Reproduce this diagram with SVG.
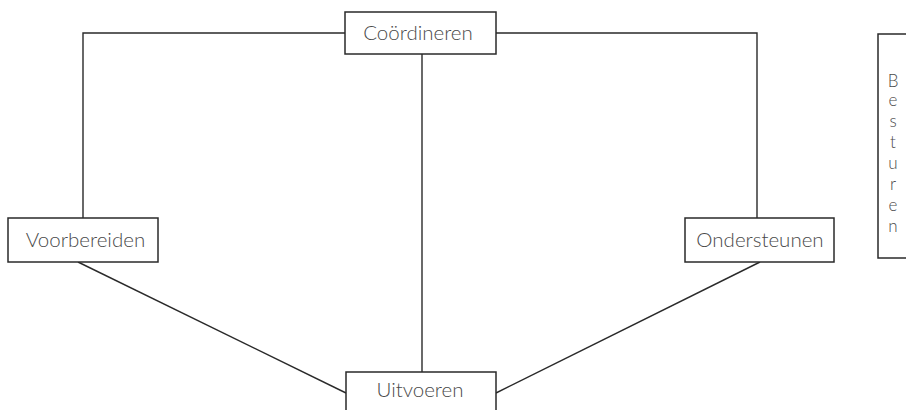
<svg xmlns="http://www.w3.org/2000/svg" width="906" height="410" viewBox="0 0 906 410">
  <style>
    .box { fill: #ffffff; stroke: #2a2a2a; stroke-width: 1.5; }
    .lbl { font-family: Lato, "Open Sans", "Liberation Sans", sans-serif; font-weight: 300; font-size: 20.5px; fill: #4a4a4a; text-anchor: middle; }
    .vert { font-size: 17px; }
    .edge { fill: none; stroke: #2a2a2a; stroke-width: 1.4; }
  </style>
  <rect width="906" height="410" fill="#ffffff"/>

  <g id="connectors">
    <polyline class="edge" points="345,33 83,33 83,218"/>
    <polyline class="edge" points="496,33 757,33 757,218"/>
    <line class="edge" x1="422" y1="54" x2="422" y2="372"/>
    <line class="edge" x1="78" y1="262" x2="346" y2="393"/>
    <line class="edge" x1="760" y1="262" x2="496" y2="393"/>
  </g>

  <g id="coordineren">
    <rect class="box" x="345" y="12" width="151" height="42"/>
    <text class="lbl" x="418" y="40">Coördineren</text>
  </g>

  <g id="voorbereiden">
    <rect class="box" x="8" y="218" width="150" height="44"/>
    <text class="lbl" x="85.5" y="247">Voorbereiden</text>
  </g>

  <g id="ondersteunen">
    <rect class="box" x="685" y="218" width="149" height="44"/>
    <text class="lbl" x="760" y="247">Ondersteunen</text>
  </g>

  <g id="uitvoeren">
    <rect class="box" x="346" y="372" width="150" height="50"/>
    <text class="lbl" x="420" y="397">Uitvoeren</text>
  </g>

  <!-- vertical label: one letter per line -->
  <g id="besturen">
    <rect class="box" x="878" y="34" width="40" height="224"/>
    <text class="lbl vert" x="893" y="87">B<tspan x="893" y="106">e</tspan><tspan x="893" y="127">s</tspan><tspan x="893" y="148">t</tspan><tspan x="893" y="169">u</tspan><tspan x="893" y="190">r</tspan><tspan x="893" y="211">e</tspan><tspan x="893" y="232">n</tspan></text>
  </g>
</svg>
